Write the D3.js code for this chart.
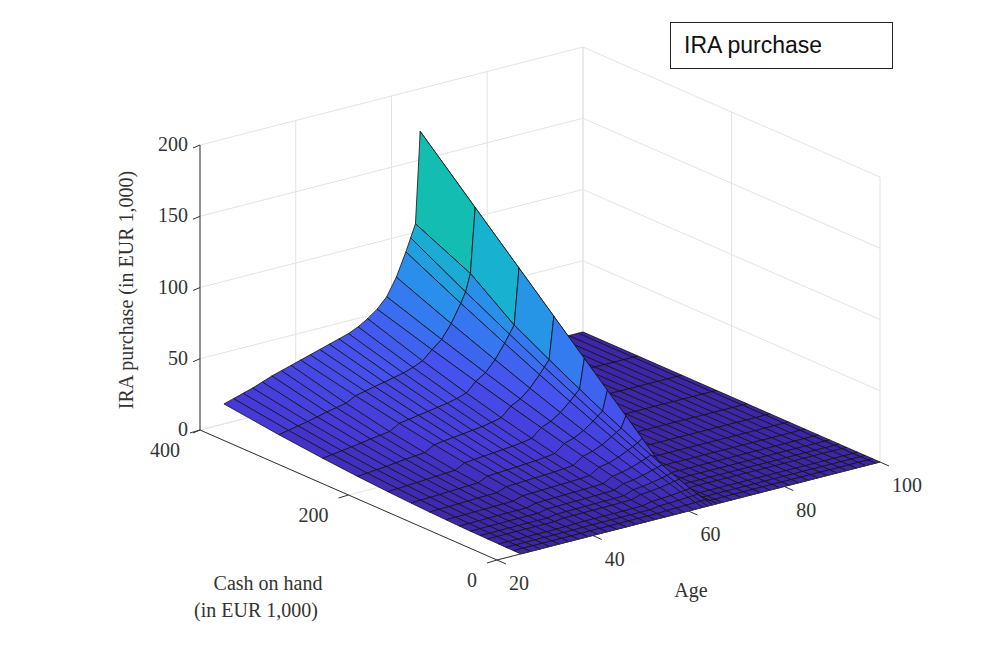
<!DOCTYPE html>
<html>
<head>
<meta charset="utf-8">
<script src="https://cdn.jsdelivr.net/npm/d3@7"></script>
<style>
  body { margin: 0; background: #fff; }
  svg { display: block; }
</style>
</head>
<body>
<script>
// grid of the surface: rows = ages, columns = cash on hand
const ages = [25, 27, 29, 31, 33, 35, 37, 39, 41, 43, 45, 47, 49, 51, 53, 55, 57, 59, 61, 63, 64, 65, 66,
              67, 69, 71, 73, 75, 77, 79, 81, 83, 85, 87, 89, 91, 93, 95, 97, 99, 100];
const cash = [0, 10, 20, 30, 45, 55, 68, 83, 101, 123, 148, 179, 220, 267, 326, 400];

const ira = [
  [0, 0, 0, 0.1, 0.2, 0.3, 0.4, 0.6, 0.9, 1.3, 1.9, 2.8, 4.2, 6.2, 9.3, 14],
  [0, 0, 0, 0.1, 0.2, 0.3, 0.5, 0.7, 1.0, 1.5, 2.2, 3.2, 4.8, 7.1, 10.6, 16],
  [0, 0, 0, 0.1, 0.2, 0.3, 0.5, 0.8, 1.1, 1.7, 2.5, 3.6, 5.4, 8.0, 12.0, 18],
  [0, 0, 0.1, 0.1, 0.3, 0.4, 0.6, 0.9, 1.3, 1.9, 2.7, 4.0, 6.0, 8.9, 13.3, 20],
  [0, 0, 0.1, 0.1, 0.3, 0.4, 0.7, 1.0, 1.4, 2.1, 3.1, 4.5, 6.8, 10.0, 14.9, 22.5],
  [0, 0, 0.1, 0.1, 0.3, 0.5, 0.7, 1.1, 1.6, 2.4, 3.4, 5.0, 7.6, 11.1, 16.6, 25],
  [0, 0, 0.1, 0.2, 0.3, 0.5, 0.8, 1.2, 1.7, 2.6, 3.7, 5.4, 8.2, 12.0, 17.9, 27],
  [0, 0, 0.1, 0.2, 0.4, 0.5, 0.8, 1.2, 1.9, 2.7, 4.0, 5.8, 8.8, 12.9, 19.3, 29],
  [0, 0.1, 0.3, 0.6, 1.2, 1.6, 2.2, 2.9, 3.9, 5.3, 7.0, 9.3, 12.6, 16.9, 22.8, 31],
  [0, 0.1, 0.4, 0.7, 1.2, 1.7, 2.3, 3.1, 4.2, 5.6, 7.4, 9.9, 13.5, 18.0, 24.3, 33],
  [0, 0.1, 0.4, 0.7, 1.3, 1.8, 2.5, 3.3, 4.4, 6.0, 7.9, 10.5, 14.3, 19.1, 25.8, 35],
  [0, 0.1, 0.4, 0.8, 1.4, 1.9, 2.6, 3.5, 4.7, 6.3, 8.3, 11.1, 15.1, 20.2, 27.2, 37],
  [0, 0.2, 0.4, 0.8, 1.5, 2.0, 2.7, 3.7, 5.0, 6.6, 8.8, 11.7, 15.9, 21.3, 28.7, 39],
  [0, 0.2, 0.5, 0.8, 1.5, 2.1, 2.9, 3.9, 5.2, 7.0, 9.2, 12.3, 16.7, 22.4, 30.2, 41],
  [0, 0.2, 0.5, 0.9, 1.7, 2.2, 3.1, 4.2, 5.6, 7.5, 9.9, 13.2, 18.0, 24.0, 32.4, 44],
  [0, 0.2, 0.5, 1.0, 1.8, 2.4, 3.4, 4.5, 6.1, 8.2, 10.8, 14.4, 19.6, 26.2, 35.3, 48],
  [0, 0.6, 1.5, 2.4, 3.9, 4.9, 6.3, 8.0, 10.2, 12.9, 16.1, 20.2, 25.9, 32.6, 41.4, 53],
  [0, 0.7, 1.7, 2.7, 4.4, 5.6, 7.1, 9.1, 11.5, 14.6, 18.2, 22.9, 29.3, 37.0, 46.9, 60],
  [0, 0.9, 2.0, 3.2, 5.2, 6.7, 8.6, 10.9, 13.8, 17.5, 21.8, 27.4, 35.1, 44.4, 56.3, 72],
  [0, 1.1, 2.4, 3.9, 6.4, 8.1, 10.5, 13.3, 16.9, 21.4, 26.7, 33.5, 42.9, 54.2, 68.8, 88],
  [0, 1.2, 2.7, 4.3, 7.1, 9.0, 11.5, 14.6, 18.6, 23.6, 29.4, 37.0, 47.3, 59.8, 75.9, 97],
  [0, 1.3, 2.9, 4.7, 7.7, 9.8, 12.6, 16.0, 20.4, 25.8, 32.1, 40.4, 51.7, 65.3, 88.0, 106],
  [0, 0, 0, 0, 0, 0, 6.4, 13.8, 22.7, 33.5, 45.8, 61.1, 81.3, 104.5, 133.5, 170],
  [0, 0, 0, 0, 0, 0, 0, 0, 0, 0, 0, 0, 0, 0, 0, 0],
  [0, 0, 0, 0, 0, 0, 0, 0, 0, 0, 0, 0, 0, 0, 0, 0],
  [0, 0, 0, 0, 0, 0, 0, 0, 0, 0, 0, 0, 0, 0, 0, 0],
  [0, 0, 0, 0, 0, 0, 0, 0, 0, 0, 0, 0, 0, 0, 0, 0],
  [0, 0, 0, 0, 0, 0, 0, 0, 0, 0, 0, 0, 0, 0, 0, 0],
  [0, 0, 0, 0, 0, 0, 0, 0, 0, 0, 0, 0, 0, 0, 0, 0],
  [0, 0, 0, 0, 0, 0, 0, 0, 0, 0, 0, 0, 0, 0, 0, 0],
  [0, 0, 0, 0, 0, 0, 0, 0, 0, 0, 0, 0, 0, 0, 0, 0],
  [0, 0, 0, 0, 0, 0, 0, 0, 0, 0, 0, 0, 0, 0, 0, 0],
  [0, 0, 0, 0, 0, 0, 0, 0, 0, 0, 0, 0, 0, 0, 0, 0],
  [0, 0, 0, 0, 0, 0, 0, 0, 0, 0, 0, 0, 0, 0, 0, 0],
  [0, 0, 0, 0, 0, 0, 0, 0, 0, 0, 0, 0, 0, 0, 0, 0],
  [0, 0, 0, 0, 0, 0, 0, 0, 0, 0, 0, 0, 0, 0, 0, 0],
  [0, 0, 0, 0, 0, 0, 0, 0, 0, 0, 0, 0, 0, 0, 0, 0],
  [0, 0, 0, 0, 0, 0, 0, 0, 0, 0, 0, 0, 0, 0, 0, 0],
  [0, 0, 0, 0, 0, 0, 0, 0, 0, 0, 0, 0, 0, 0, 0, 0],
  [0, 0, 0, 0, 0, 0, 0, 0, 0, 0, 0, 0, 0, 0, 0, 0],
  [0, 0, 0, 0, 0, 0, 0, 0, 0, 0, 0, 0, 0, 0, 0, 0]
];

const ageTicks = [20, 40, 60, 80, 100];
const cashTicks = [0, 200, 400];
const zTicks = [0, 50, 100, 150, 200];

const width = 1000;
const height = 666;

const svg = d3.select('body')
    .append('svg')
    .attr('width', width)
    .attr('height', height);

// projected box: front corner (age 20, cash 0, z 0)
const origin = [497, 560];
const ageVec = [383, -98];
const cashVec = [-297, -130];
const sa = d3.scaleLinear().domain([20, 100]).range([0, 1]);
const sc = d3.scaleLinear().domain([0, 400]).range([0, 1]);
const sz = d3.scaleLinear().domain([0, 200]).range([0, 285]);

function proj(a, c, z) {
    const u = sa(a), v = sc(c);
    return [origin[0] + u * ageVec[0] + v * cashVec[0],
            origin[1] + u * ageVec[1] + v * cashVec[1] - sz(z)];
}

const color = d3.scaleLinear()
    .domain([0, 12, 35, 65, 95, 125, 160, 175])
    .range(['#3e26a8', '#4638d6', '#4653ee', '#2f86f0', '#18b0d2', '#13bdb0', '#3cc78e', '#4cc87a'])
    .clamp(true);

const line = d3.line();
const gridColor = '#e3e3e3';

// back walls and floor grid
const grid = svg.append('g').attr('fill', 'none').attr('stroke', gridColor).attr('stroke-width', 1);
ageTicks.forEach(a => {
    grid.append('path').attr('d', line([proj(a, 400, 0), proj(a, 400, 200)]));
    grid.append('path').attr('d', line([proj(a, 0, 0), proj(a, 400, 0)]));
});
cashTicks.forEach(c => {
    grid.append('path').attr('d', line([proj(100, c, 0), proj(100, c, 200)]));
    grid.append('path').attr('d', line([proj(20, c, 0), proj(100, c, 0)]));
});
zTicks.forEach(z => {
    grid.append('path').attr('d', line([proj(20, 400, z), proj(100, 400, z), proj(100, 0, z)]));
});

// surface cells, painted back to front
const cells = [];
for (let i = 0; i < ages.length - 1; i++) {
    for (let j = 0; j < cash.length - 1; j++) {
        const pts = [[i, j], [i + 1, j], [i + 1, j + 1], [i, j + 1]];
        const zMean = d3.mean(pts, p => ira[p[0]][p[1]]);
        const depth = proj((ages[i] + ages[i + 1]) / 2, (cash[j] + cash[j + 1]) / 2, 0)[1];
        cells.push({
            poly: pts.map(p => proj(ages[p[0]], cash[p[1]], ira[p[0]][p[1]])),
            z: zMean,
            depth: depth
        });
    }
}
cells.sort((a, b) => a.depth - b.depth);

svg.append('g')
    .selectAll('path')
    .data(cells)
    .join('path')
    .attr('d', d => line(d.poly) + 'Z')
    .attr('fill', d => color(d.z))
    .attr('stroke', '#111')
    .attr('stroke-width', 0.8)
    .attr('stroke-linejoin', 'round');

// axes
const axisColor = '#333';
const ax = svg.append('g').attr('stroke', axisColor).attr('stroke-width', 1).attr('fill', 'none');
ax.append('path').attr('d', line([proj(20, 400, 0), proj(20, 400, 200)]));
ax.append('path').attr('d', line([proj(20, 400, 0), proj(20, 0, 0), proj(100, 0, 0)]));

const labels = svg.append('g')
    .attr('font-family', 'Liberation Serif, Times New Roman, serif')
    .attr('font-size', 20)
    .attr('fill', '#333');

zTicks.forEach(z => {
    const p = proj(20, 400, z);
    ax.append('path').attr('d', line([p, [p[0] - 7, p[1] + 3]]));
    labels.append('text').attr('x', p[0] - 12).attr('y', p[1] + 6)
        .attr('text-anchor', 'end').text(z);
});
cashTicks.forEach(c => {
    const p = proj(20, c, 0);
    ax.append('path').attr('d', line([p, [p[0] - 10, p[1] + 3]]));
    labels.append('text').attr('x', p[0] - 20).attr('y', p[1] + 27)
        .attr('text-anchor', 'end').text(c);
});
ageTicks.forEach(a => {
    const p = proj(a, 0, 0);
    ax.append('path').attr('d', line([p, [p[0] + 9, p[1] + 4]]));
    labels.append('text').attr('x', p[0] + 12).attr('y', p[1] + 30)
        .attr('text-anchor', 'start').text(a);
});

labels.append('text')
    .attr('transform', 'translate(133,290) rotate(-90)')
    .attr('text-anchor', 'middle')
    .text('IRA purchase (in EUR 1,000)');
labels.append('text').attr('x', 268).attr('y', 590).attr('text-anchor', 'middle').text('Cash on hand');
labels.append('text').attr('x', 256).attr('y', 617).attr('text-anchor', 'middle').text('(in EUR 1,000)');
labels.append('text').attr('x', 691).attr('y', 597).attr('text-anchor', 'middle').text('Age');

// title box
svg.append('rect')
    .attr('x', 670.5).attr('y', 22.5).attr('width', 222).attr('height', 46)
    .attr('fill', '#fff').attr('stroke', '#222').attr('stroke-width', 1);
svg.append('text')
    .attr('x', 684).attr('y', 53)
    .attr('font-family', 'Liberation Sans, Arial, sans-serif')
    .attr('font-size', 23)
    .attr('fill', '#111')
    .text('IRA purchase');
</script>
</body>
</html>
